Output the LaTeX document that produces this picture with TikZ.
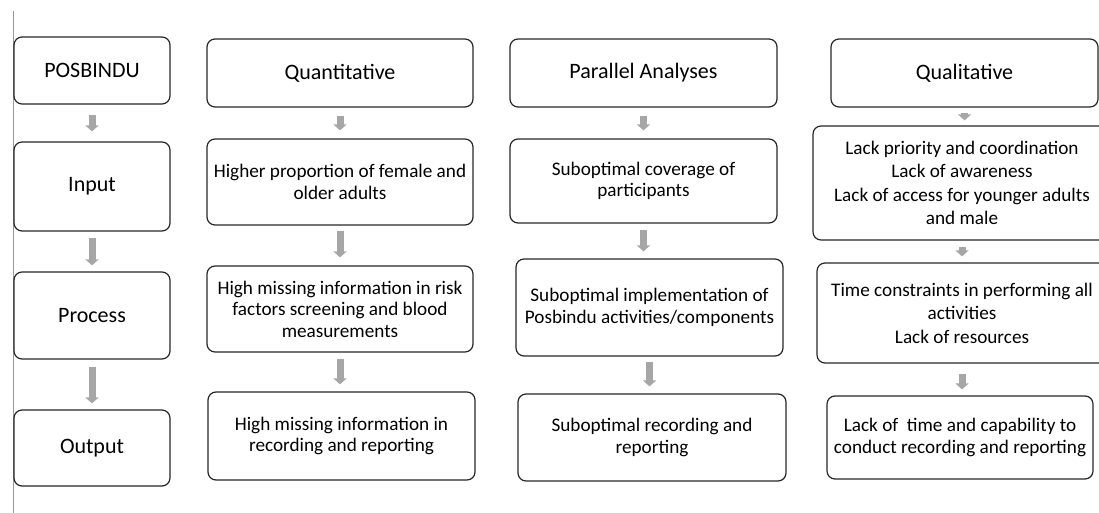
\documentclass[tikz,border=0pt]{standalone}
\usepackage{fontspec}
\setmainfont{Carlito}
\usetikzlibrary{arrows.meta}
\begin{document}
\begin{tikzpicture}
[x=1pt,y=-1pt,
  boxdecorate/.style={shape=rectangle,rounded corners=8pt,draw=black!85,line width=1.2pt,
    align=center,inner sep=2pt,font=\fontsize{19.2}{21.5}\selectfont},%
  headdecorate/.style={boxdecorate,font=\fontsize{22}{26}\selectfont},%
  qualdecorate/.style={boxdecorate,font=\fontsize{19.2}{23.5}\selectfont},%
  arrowdecorate/.style={-{Triangle[width=13pt,length=6pt]},line width=7pt,draw=black!35}]
\useasboundingbox (0,0) rectangle (1099,513);
\clip (0,0) rectangle (1099,513);
\draw[black!40,line width=1pt] (13,11) -- (13,513);
%% framework column
\node (posbindu) at (92,70.5) [headdecorate,minimum width=156pt,minimum height=67pt] {POSBINDU};
\node (input) at (92,186.5) [headdecorate,minimum width=156pt,minimum height=89pt] {Input};
\node (process) at (92,315.5) [headdecorate,minimum width=156pt,minimum height=87pt] {Process};
\node (output) at (92,448) [headdecorate,minimum width=156pt,minimum height=76pt] {Output};
%% quantitative column
\node (quanti) at (340,73) [headdecorate,minimum width=266pt,minimum height=68pt] {Quantitative};
\node (quantin) at (340,182) [boxdecorate,minimum width=266pt,minimum height=86pt]
  {Higher proportion of female and\\older adults};
\node (quantproc) at (340,309) [boxdecorate,minimum width=266pt,minimum height=86pt]
  {High missing information in risk\\factors screening and blood\\measurements};
\node (quantout) at (341.5,436) [boxdecorate,minimum width=267pt,minimum height=88pt]
  {High missing information in\\recording and reporting};
%% parallel column
\node (para) at (643.5,73) [headdecorate,minimum width=267pt,minimum height=68pt] {Parallel Analyses};
\node (parain) at (643.5,181) [boxdecorate,minimum width=267pt,minimum height=84pt]
  {Suboptimal coverage of\\participants};
\node (paraproc) at (649.5,307.5) [boxdecorate,minimum width=267pt,minimum height=97pt]
  {Suboptimal implementation of\\Posbindu activities/components};
\node (paraout) at (652,437.5) [boxdecorate,minimum width=268pt,minimum height=87pt]
  {Suboptimal recording and\\reporting};
%% qualitative column
\node (quali) at (964.5,73) [headdecorate,minimum width=267pt,minimum height=68pt] {Qualitative};
\node (qualin) at (962,183) [qualdecorate,minimum width=298pt,minimum height=114pt]
  {Lack priority and coordination\\Lack of awareness\\Lack of access for younger adults\\and male};
\node (qualproc) at (962,313) [qualdecorate,minimum width=290pt,minimum height=100pt]
  {Time constraints in performing all\\activities\\Lack of resources};
\node (qualout) at (960,437.5) [boxdecorate,minimum width=266pt,minimum height=83pt]
  {Lack of~ time and capability to\\conduct recording and reporting};
%% arrows
\foreach \startnode/\endnode/\gapa/\gapb in {
  posbindu/input/10/10, input/process/6/6, process/output/7/6,
  quanti/quantin/8/8, quantin/quantproc/5/8, quantproc/quantout/6/7,
  para/parain/8/8, parain/paraproc/6/7, paraproc/paraout/5/7,
  quali/qualin/5/5, qualin/qualproc/6/6, qualproc/qualout/10/6}
{
  \draw[arrowdecorate,shorten <=\gapa pt,shorten >=\gapb pt]
    (\startnode.south) -- (\startnode.south |- \endnode.north);
}
\end{tikzpicture}
\end{document}
